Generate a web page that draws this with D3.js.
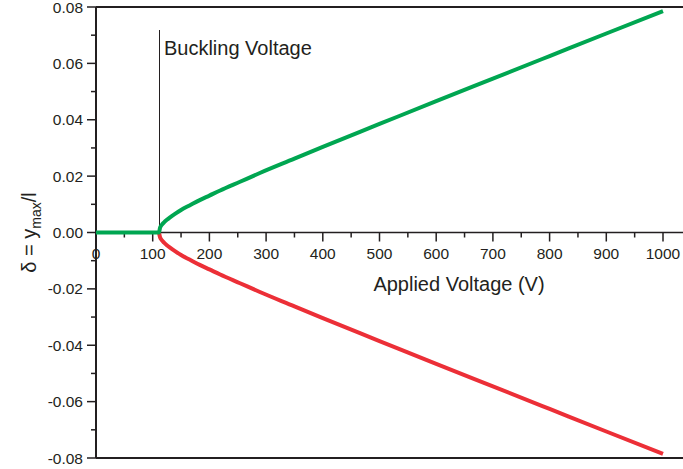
<!DOCTYPE html>
<html><head><meta charset="utf-8">
<script src="https://cdn.jsdelivr.net/npm/d3@7"></script>
<style>
body{margin:0;background:#fff;}
svg{display:block;font-family:"Liberation Sans",Arial,Helvetica,sans-serif;}
</style></head>
<body>
<svg id="chart" width="683" height="469"></svg>
<script>
const voltage = [0, 50, 100, 111, 113, 116, 120, 125, 130, 140, 150, 165, 183, 200, 219, 254, 289, 350, 400, 500, 600, 700, 800, 900, 1000];
const deflectionUp = [0, 0, 0, 0, 0.0017, 0.0027, 0.0036, 0.0045, 0.0053, 0.0067, 0.0080, 0.0096, 0.0115, 0.0131, 0.0149, 0.0180, 0.0211, 0.0262, 0.0304, 0.0385, 0.0466, 0.0546, 0.0626, 0.0706, 0.0785];
const deflectionDown = deflectionUp.map(d => -d);
const xTicks = [0, 100, 200, 300, 400, 500, 600, 700, 800, 900, 1000];
const yTicks = [-0.08, -0.06, -0.04, -0.02, 0.00, 0.02, 0.04, 0.06, 0.08];
const bucklingVoltage = 111;
const bucklingLabel = "Buckling Voltage";
const xTitle = "Applied Voltage (V)";

(function () {
const svg = d3.select("#chart");
const W = 683;
const mLeft = 96, mTop = 7, mBottom = 458;
const ink = "#231f20";
const x = d3.scaleLinear().domain([0, 1000]).range([96, 663]);
const y = d3.scaleLinear().domain([-0.08, 0.08]).range([mBottom, mTop]);

// frame top / bottom
svg.append("line").attr("x1", mLeft).attr("x2", W).attr("y1", mTop).attr("y2", mTop)
  .attr("stroke", ink).attr("stroke-width", 2);
svg.append("line").attr("x1", mLeft).attr("x2", W).attr("y1", mBottom).attr("y2", mBottom)
  .attr("stroke", ink).attr("stroke-width", 2);

// y axis
const yMinor = d3.range(-0.07, 0.08, 0.02);
const yAxisG = svg.append("g").attr("transform", `translate(${mLeft},0)`);
yAxisG.append("line").attr("x1", 0).attr("x2", 0).attr("y1", mTop).attr("y2", mBottom)
  .attr("stroke", ink).attr("stroke-width", 2);
yAxisG.selectAll("line.maj").data(yTicks).join("line").attr("class", "maj")
  .attr("x1", -9).attr("x2", 0).attr("y1", d => y(d)).attr("y2", d => y(d))
  .attr("stroke", ink).attr("stroke-width", 1.5);
yAxisG.selectAll("line.min").data(yMinor).join("line").attr("class", "min")
  .attr("x1", -5).attr("x2", 0).attr("y1", d => y(d)).attr("y2", d => y(d))
  .attr("stroke", ink).attr("stroke-width", 1.5);
yAxisG.selectAll("text").data(yTicks).join("text")
  .attr("x", -13).attr("y", d => y(d)).attr("dy", "0.36em")
  .attr("text-anchor", "end").attr("font-size", 15.5).attr("fill", ink)
  .text(d => d3.format(".2f")(d).replace("−", "-"));

// x axis at y=0
const y0 = y(0);
const xMinor = d3.range(50, 1001, 100);
const xAxisG = svg.append("g").attr("transform", `translate(0,${y0})`);
xAxisG.append("line").attr("x1", mLeft).attr("x2", W).attr("y1", 0).attr("y2", 0)
  .attr("stroke", ink).attr("stroke-width", 1.5);
xAxisG.selectAll("line.maj").data(xTicks).join("line").attr("class", "maj")
  .attr("x1", d => x(d)).attr("x2", d => x(d)).attr("y1", 0).attr("y2", 9)
  .attr("stroke", ink).attr("stroke-width", 1.5);
xAxisG.selectAll("line.min").data(xMinor).join("line").attr("class", "min")
  .attr("x1", d => x(d)).attr("x2", d => x(d)).attr("y1", 0).attr("y2", 5)
  .attr("stroke", ink).attr("stroke-width", 1.5);
xAxisG.selectAll("text").data(xTicks).join("text")
  .attr("x", d => x(d)).attr("y", 26).attr("text-anchor", "middle")
  .attr("font-size", 15.5).attr("fill", ink).text(d => d);

// x title
svg.append("text").attr("x", 459).attr("y", 291).attr("text-anchor", "middle")
  .attr("font-size", 20).attr("fill", ink).text(xTitle);

// y title
const yt = svg.append("text").attr("transform", `translate(36,${y0}) rotate(-90)`)
  .attr("text-anchor", "middle").attr("font-size", 20).attr("fill", ink);
yt.append("tspan").text("δ = y");
yt.append("tspan").attr("font-size", 14).attr("dy", 5).text("max");
yt.append("tspan").attr("dy", -5).text("/l");

// buckling line
svg.append("line").attr("x1", 159.5).attr("x2", 159.5)
  .attr("y1", 30).attr("y2", y0).attr("stroke", ink).attr("stroke-width", 1)
  .attr("shape-rendering", "crispEdges");
svg.append("text").attr("x", x(bucklingVoltage) + 5).attr("y", 55)
  .attr("font-size", 20).attr("fill", ink).text(bucklingLabel);

// curves
const line = d3.line().curve(d3.curveMonotoneX);
const upPts = voltage.map((v, i) => [x(v), y(deflectionUp[i])]);
const downPts = voltage.map((v, i) => [x(v), y(deflectionDown[i])]);
svg.append("path").attr("d", line(downPts.slice(3))).attr("fill", "none")
  .attr("stroke", "#ec2f37").attr("stroke-width", 4);
svg.append("path").attr("d", line(upPts)).attr("fill", "none")
  .attr("stroke", "#00a651").attr("stroke-width", 4);
})();
</script>
</body></html>
